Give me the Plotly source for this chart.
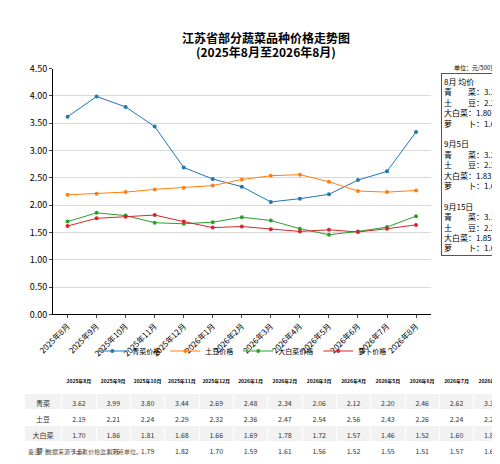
import plotly.graph_objects as go

months = ["2025年8月", "2025年9月", "2025年10月", "2025年11月", "2025年12月", "2026年1月",
          "2026年2月", "2026年3月", "2026年4月", "2026年5月", "2026年6月", "2026年7月", "2026年8月"]
qingcai = [3.62, 3.99, 3.80, 3.44, 2.69, 2.48, 2.34, 2.06, 2.12, 2.20, 2.46, 2.62, 3.34]
tudou = [2.19, 2.21, 2.24, 2.29, 2.32, 2.36, 2.47, 2.54, 2.56, 2.43, 2.26, 2.24, 2.27]
dabaicai = [1.70, 1.86, 1.81, 1.68, 1.66, 1.69, 1.78, 1.72, 1.57, 1.46, 1.52, 1.60, 1.80]
luobo = [1.62, 1.76, 1.79, 1.82, 1.70, 1.59, 1.61, 1.56, 1.52, 1.55, 1.51, 1.57, 1.64]

series = [("青菜价格", qingcai, "#1f77b4"), ("土豆价格", tudou, "#ff7f0e"),
          ("大白菜价格", dabaicai, "#2ca02c"), ("萝卜价格", luobo, "#d62728")]
row_names = ["青菜", "土豆", "大白菜", "萝卜"]

box_text = ("8月 均价<br>青　　菜：3.34<br>土　　豆：2.27<br>大白菜：1.80<br>萝　　卜：1.64<br><br>"
            "9月5日<br>青　　菜：3.33<br>土　　豆：2.31<br>大白菜：1.83<br>萝　　卜：1.69<br><br>"
            "9月15日<br>青　　菜：3.13<br>土　　豆：2.28<br>大白菜：1.85<br>萝　　卜：1.68")

font = "Noto Sans CJK SC"
fig = go.Figure()
for name, vals, col in series:
    fig.add_trace(go.Scatter(x=months, y=vals, name=name, mode="lines+markers",
                             line=dict(color=col, width=1), marker=dict(size=4, color=col)))

cells = [row_names] + [[f"{v:.2f}" for v in (qingcai[i], tudou[i], dabaicai[i], luobo[i])]
                       for i in range(len(months))]
fig.add_trace(go.Table(
    domain=dict(x=[0.0, 1.0], y=[0.02, 0.215]),
    columnwidth=[1.1] + [1] * 13,
    header=dict(values=[""] + ["<b>" + m + "</b>" for m in months], fill_color="white",
                line_color="white", font=dict(size=5, color="black", family=font), height=16),
    cells=dict(values=cells, line_color="white",
               fill_color=[["#f2f2f2", "white", "#f2f2f2", "white"]],
               font=dict(size=7, color="#333"), height=16),
))

fig.update_layout(
    width=500, height=464, margin=dict(l=0, r=0, t=0, b=0),
    paper_bgcolor="white", plot_bgcolor="white",
    font=dict(family=font, color="black"),
    xaxis=dict(domain=[0.06, 0.84], tickangle=-45, tickfont=dict(size=8),
               showline=True, linecolor="black", ticks="outside", ticklen=3,
               range=[-0.5, 12.5]),
    yaxis=dict(domain=[0.336, 0.881], range=[0, 4.5], dtick=0.5, tickformat=".2f",
               tickfont=dict(size=9), gridcolor="#d9d9d9", showline=True, linecolor="black",
               ticks="outside", ticklen=3),
    legend=dict(orientation="h", x=0.45, xanchor="center", y=0.255, yanchor="middle",
                font=dict(size=7), bgcolor="rgba(0,0,0,0)"),
    annotations=[
        dict(text="<b>江苏省部分蔬菜品种价格走势图</b>", x=0.5, y=1 - 12 / 464, xref="paper",
             yref="paper", showarrow=False, font=dict(size=12)),
        dict(text="<b>(2025年8月至2026年8月)</b>", x=0.5, y=1 - 27 / 464, xref="paper", yref="paper",
             showarrow=False, font=dict(size=12)),
        dict(text="单位：元/500克", x=0.98, y=1 - 47 / 464, xref="paper", yref="paper",
             xanchor="right", showarrow=False, font=dict(size=6)),
        dict(text=box_text, x=0.862, y=1 - 60 / 464, xref="paper", yref="paper",
             xanchor="left", yanchor="top", align="left", showarrow=False,
             bordercolor="#555", borderwidth=1, borderpad=2, bgcolor="white",
             font=dict(size=8)),
        dict(text="备注：数据来源于全省价格监测定点单位。", x=0.005, y=1 - 456 / 464,
             xref="paper", yref="paper", xanchor="left", showarrow=False,
             font=dict(size=6, color="#555")),
    ],
)
fig.write_html("out.html")
